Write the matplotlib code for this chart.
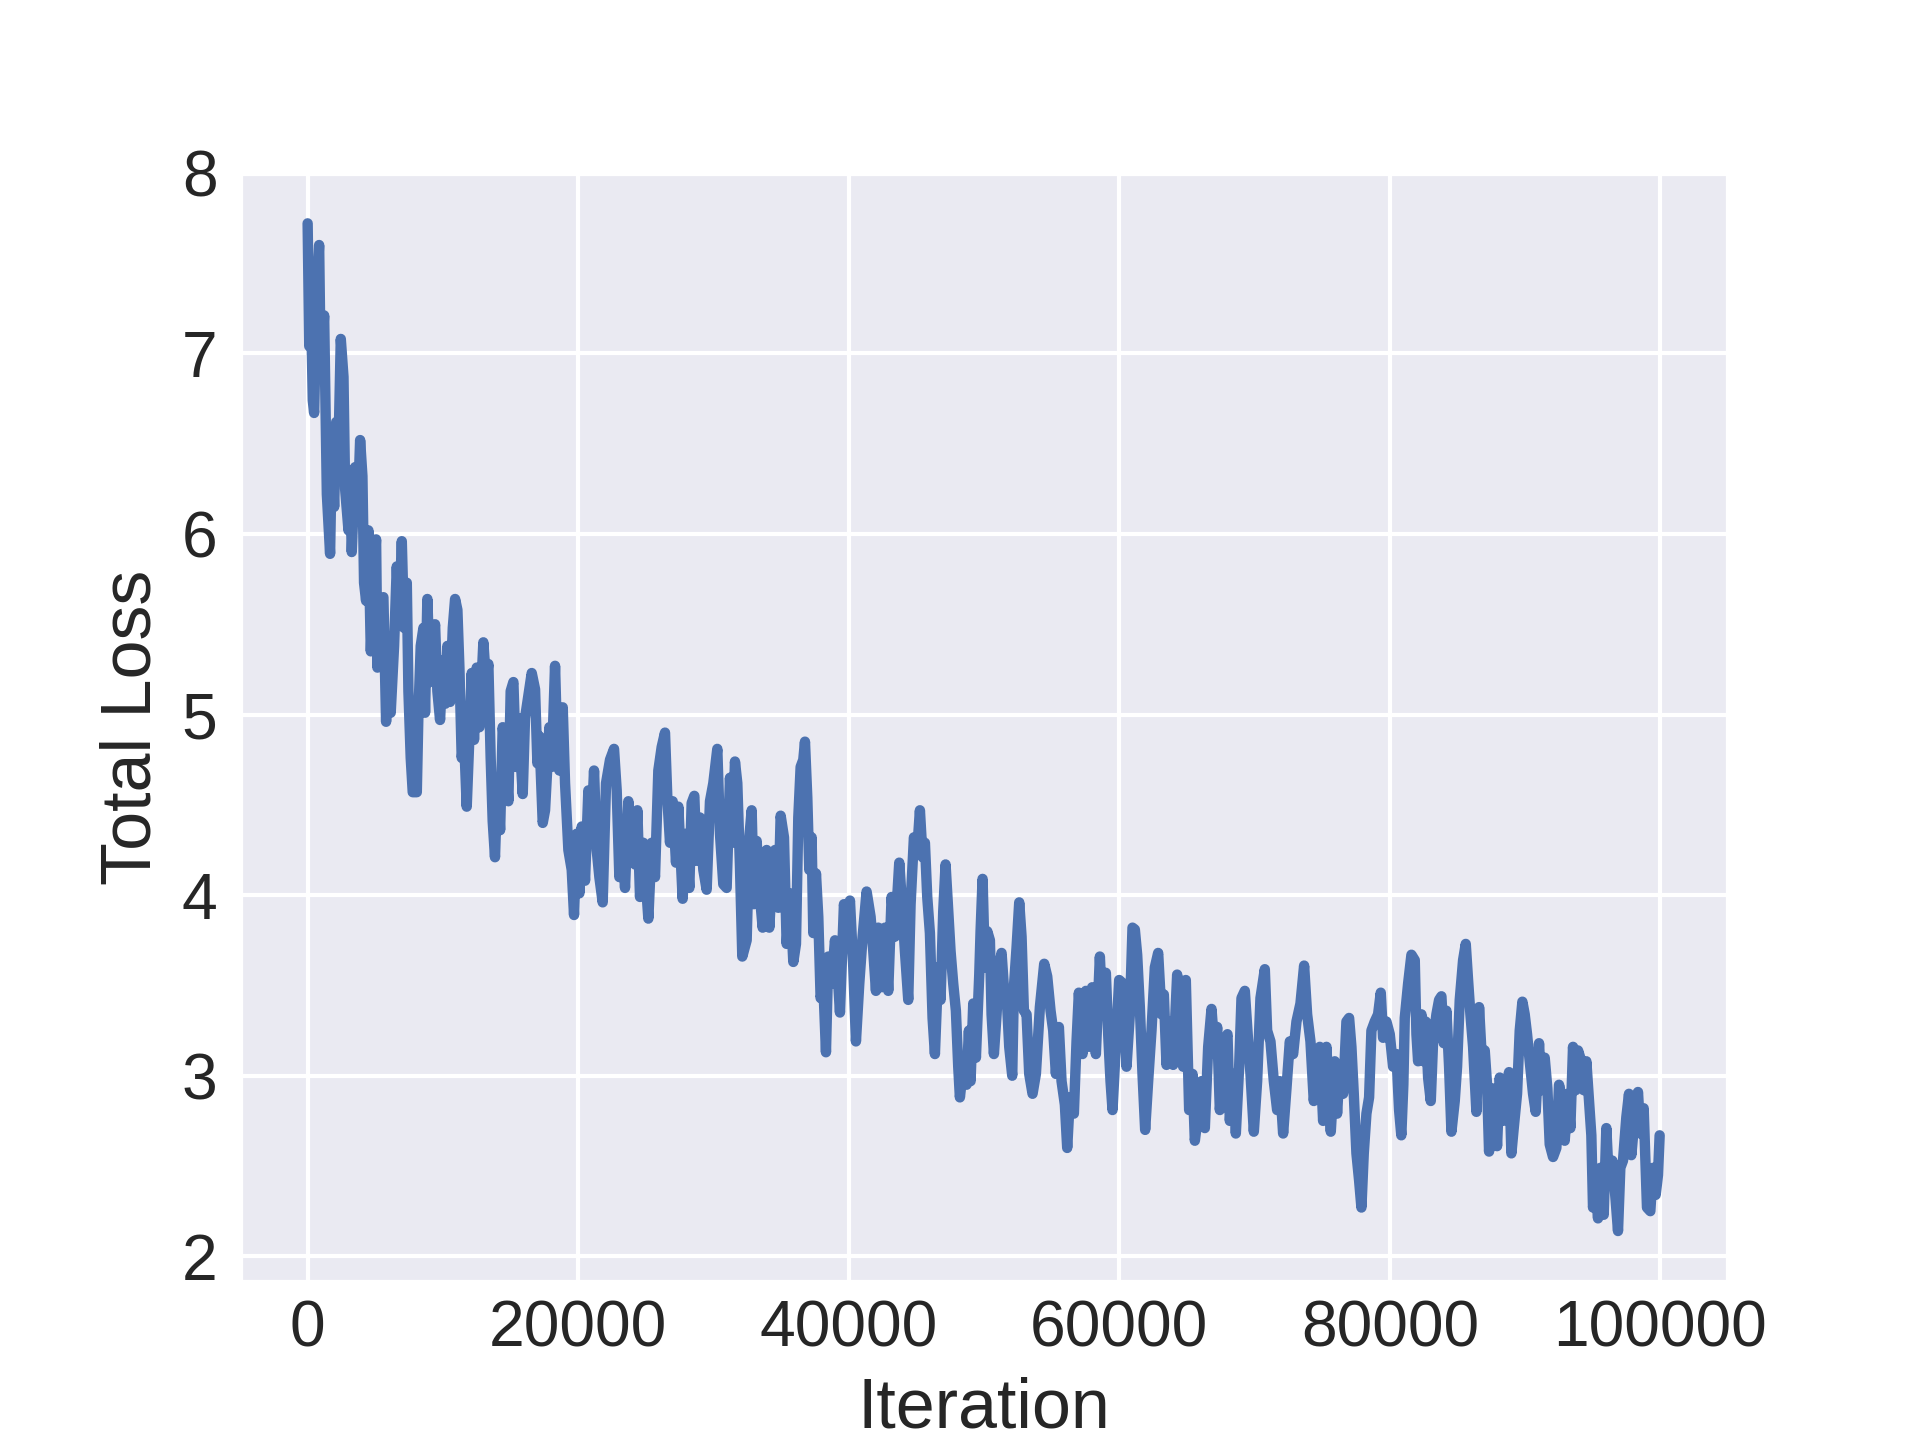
import matplotlib
matplotlib.use("Agg")
import matplotlib.pyplot as plt
import seaborn as sns

iterations = [
    0, 120, 250, 380, 480, 680, 850, 970, 1220, 1370, 1420, 1660, 1790, 1960, 2110, 2280,
    2450, 2650, 2770, 3020, 3140, 3260, 3510, 3680, 3880, 4050, 4170, 4320, 4490, 4670,
    4860, 5060, 5160, 5360, 5600, 5800, 5970, 6140, 6390, 6590, 6760, 6960, 7130, 7330,
    7450, 7620, 7770, 8070, 8190, 8360, 8560, 8680, 8850, 9050, 9250, 9420, 9590, 9790,
    9990, 10180, 10330, 10530, 10730, 10900, 11070, 11220, 11390, 11560, 11760, 11960,
    12130, 12300, 12500, 12700, 12990, 13190, 13360, 13530, 13680, 13850, 14030, 14230,
    14420, 14590, 14840, 15010, 15210, 15410, 15580, 15900, 16070,
    16566, 16812, 16985, 17133, 17379, 17551, 17871, 18044, 18290, 18463, 18610, 18857,
    19029, 19275, 19522, 19694, 19891, 20088, 20261, 20507, 20753, 21000, 21172, 21369,
    21566, 21812, 22059, 22354, 22650, 22847, 23044, 23216, 23462, 23709, 23955, 24201,
    24374, 24571, 24817, 25014, 25187, 25433, 25679, 25925, 26172, 26418, 26590, 26788,
    26985, 27231, 27403, 27723, 27970, 28216, 28388, 28585, 28758, 29004, 29251, 29497,
    29743, 29989, 30285, 30482, 30728, 30975, 31221, 31418, 31590, 31763, 31960, 32132,
    32455, 32652, 32824, 32996, 33194, 33391, 33637, 33932, 34129, 34302, 34548, 34794,
    34967, 35213, 35410, 35657, 35903, 36100, 36272, 36445, 36642, 36765, 36937, 37085,
    37257, 37381, 37578, 37750, 37922, 38120, 38317, 38489, 38735, 38982, 39154, 39351,
    39647, 39893, 40090, 40336, 40533, 40780, 41026, 41321, 41617, 41814, 42011, 42183,
    42430, 42676, 42922, 43169, 43415, 43735, 43981, 44154, 44400, 44573, 44819, 45065,
    45262, 45459, 45632, 45804, 46001, 46198, 46371, 46617, 46789, 46986, 47159, 47356,
    47528, 47725, 47922, 48095, 48218, 48464, 48710, 48883,
    49008, 49205, 49402, 49649, 49747, 49895, 50067, 50240, 50437, 50560, 50732, 50929,
    51126, 51299, 51471, 51668, 51865, 52087, 52210, 52407, 52604, 52777, 52949, 53146,
    53343, 53589, 53836, 54131, 54451, 54673, 54919, 55116, 55313, 55535, 55732, 55978,
    56151, 56348, 56643, 56841, 57013, 57284, 57530, 57776, 57998, 58269, 58565, 58762,
    59008, 59180, 59353, 59501, 59747, 59993, 60289, 60535, 60781, 60978, 61151, 61323,
    61520, 61717, 61914, 62136, 62382, 62629, 62875, 63121, 63294, 63491, 63688, 63983,
    64279, 64476, 64722, 64919, 65165,
    65414, 65586, 65833, 66079, 66325, 66572, 66818, 67064, 67237, 67434, 67631, 67803,
    68000, 68173, 68419, 68616, 68862, 69035, 69281, 69527, 69700, 69946, 70192, 70438,
    70759, 70931, 71177, 71424, 71670, 71867, 72113, 72360, 72606, 72852, 73099, 73394,
    73665, 73887, 74133, 74379, 74626, 74823, 75069, 75315, 75488, 75635, 75931, 76103,
    76300, 76547, 76793, 76990, 77162, 77335, 77532, 77729, 77901, 78074, 78271, 78468,
    78640, 78887, 79133, 79330, 79502, 79749, 79995, 80241, 80488, 80685, 80850, 81000,
    81105, 81352, 81598, 81844, 81968, 82091, 82337, 82509, 82657, 82830, 83027, 83199,
    83445, 83642, 83815, 83987, 84184, 84381, 84554, 84800, 84972, 85169, 85416, 85613,
    85785, 85958, 86155, 86401, 86598, 86770, 87017, 87189, 87337, 87583, 87756, 87928,
    88125, 88371, 88618, 88815, 88987, 89160, 89406, 89603, 89800, 89972, 90145, 90342,
    90588, 90785, 91031, 91204, 91450, 91647, 91820, 92066, 92312, 92509, 92755, 92928,
    93174, 93347, 93544, 93741, 93913, 94159, 94332, 94529, 94726, 94898, 95021, 95218,
    95391, 95563, 95810, 96007, 96204, 96450, 96696, 96869, 97041, 97238, 97484, 97681,
    97854, 98100, 98346, 98519, 98765, 99011, 99258, 99455, 99652, 99824, 99947,
]

total_loss = [
    7.72, 7.04, 7.26, 6.74, 6.67, 7.36, 7.60, 6.89, 7.21, 6.49, 6.22, 5.89, 6.47, 6.15, 6.62, 6.47,
    7.08, 6.87, 6.25, 6.02, 6.35, 5.90, 6.37, 6.07, 6.52, 6.32, 5.73, 5.63, 6.02, 5.35,
    5.73, 5.97, 5.26, 5.63, 5.65, 4.96, 5.35, 5.01, 5.38, 5.82, 5.50, 5.96, 5.48, 5.73,
    5.13, 4.76, 4.57, 4.57, 5.01, 5.38, 5.48, 5.01, 5.64, 5.18, 5.38, 5.50, 5.13, 4.97,
    5.30, 5.06, 5.38, 5.07, 5.48, 5.64, 5.58, 5.26, 4.76, 4.88, 4.49, 4.88,
    5.23, 4.86, 5.26, 4.93, 5.40, 5.18, 5.28, 4.76, 4.41, 4.21, 4.63, 4.36,
    4.93, 4.81, 4.52, 5.13, 5.18, 4.71, 4.98, 4.56, 4.98,
    5.23, 5.14, 4.73, 4.88, 4.40, 4.47, 4.93, 4.71, 5.27, 4.80, 4.69, 5.04,
    4.62, 4.25, 4.14, 3.89, 4.34, 4.01, 4.38, 4.08, 4.58, 4.40, 4.69, 4.25,
    4.10, 3.96, 4.62, 4.75, 4.81, 4.58, 4.10, 4.40, 4.04, 4.52, 4.19, 4.17,
    4.47, 3.99, 4.29, 4.06, 3.87, 4.29, 4.10, 4.69, 4.82, 4.90, 4.54, 4.29,
    4.52, 4.18, 4.49, 3.98, 4.34, 4.04, 4.51, 4.55, 4.19, 4.43, 4.14, 4.03,
    4.52, 4.62, 4.81, 4.34, 4.06, 4.04, 4.65, 4.29, 4.74, 4.62, 4.16, 3.66,
    3.75, 4.32, 4.47, 3.95, 4.30, 4.03, 3.82, 4.25, 3.82, 4.06, 4.25, 3.93,
    4.44, 4.32, 3.73, 4.01, 3.63, 3.73, 4.43, 4.71, 4.75, 4.85, 4.54, 4.14,
    4.32, 3.79, 4.12, 3.88, 3.43, 3.51, 3.13, 3.66, 3.51, 3.75, 3.60, 3.35,
    3.95, 3.80, 3.97, 3.60, 3.19, 3.51, 3.77, 4.02, 3.88, 3.69, 3.47, 3.82,
    3.49, 3.82, 3.47, 3.99, 3.77, 4.18, 3.90, 3.69, 3.42, 3.95, 4.32, 4.25,
    4.47, 4.21, 4.29, 3.99, 3.79, 3.32, 3.12, 3.60, 3.42, 3.91, 4.17, 3.91,
    3.69, 3.51, 3.36, 3.05, 2.88, 3.05, 2.95, 3.25,
    2.97, 3.40, 3.10, 3.56, 3.80, 4.09, 3.60, 3.80, 3.75, 3.34, 3.12, 3.34,
    3.62, 3.68, 3.49, 3.45, 3.16, 3.00, 3.49, 3.71, 3.96, 3.77, 3.36, 3.34,
    3.01, 2.90, 3.01, 3.38, 3.62, 3.55, 3.36, 3.25, 3.01, 3.27, 2.97, 2.84,
    2.60, 2.88, 2.79, 3.19, 3.46, 3.12, 3.47, 3.16, 3.49, 3.12, 3.66, 3.34,
    3.57, 3.23, 2.97, 2.81, 3.17, 3.53, 3.51, 3.05, 3.34, 3.82, 3.81, 3.67,
    3.38, 3.01, 2.70, 2.97, 3.25, 3.60, 3.68, 3.34, 3.45, 3.06, 3.30, 3.06,
    3.56, 3.21, 3.05, 3.53, 2.81,
    3.01, 2.64, 2.79, 2.97, 2.71, 3.16, 3.37, 3.12, 3.27, 2.81, 2.97, 3.18,
    3.23, 2.75, 3.01, 2.68, 3.05, 3.43, 3.47, 3.19, 3.01, 2.69, 2.97, 3.43,
    3.59, 3.25, 3.19, 2.97, 2.81, 2.97, 2.68, 2.93, 3.19, 3.12, 3.30, 3.40,
    3.61, 3.34, 3.19, 2.86, 3.05, 3.16, 2.75, 3.16, 2.88, 2.69, 3.08, 2.79,
    3.05, 2.90, 3.30, 3.32, 3.16, 2.90, 2.57, 2.42, 2.27, 2.57, 2.79, 2.88,
    3.25, 3.30, 3.34, 3.46, 3.21, 3.30, 3.23, 3.05, 3.12, 2.81, 2.67, 2.95,
    3.32, 3.51, 3.67, 3.64, 3.23, 3.08, 3.34, 3.08, 3.30, 2.99, 2.86, 3.19,
    3.34, 3.42, 3.44, 3.18, 3.36, 3.05, 2.69, 2.86, 3.05, 3.42, 3.64, 3.73,
    3.53, 3.34, 3.16, 2.80, 3.38, 3.14, 3.14, 2.95, 2.58, 2.93, 2.86, 2.61,
    2.99, 2.75, 2.93, 3.02, 2.57, 2.71, 2.90, 3.25, 3.41, 3.34, 3.23, 3.08,
    2.90, 2.80, 3.18, 2.92, 3.10, 2.93, 2.62, 2.55, 2.60, 2.95, 2.86, 2.64,
    2.90, 2.71, 3.16, 2.92, 3.14, 3.08, 2.92, 3.08, 2.86, 2.67, 2.27, 2.38,
    2.21, 2.49, 2.23, 2.71, 2.40, 2.53, 2.31, 2.14, 2.49, 2.53, 2.77, 2.90,
    2.56, 2.77, 2.91, 2.68, 2.82, 2.27, 2.25, 2.49, 2.34, 2.45, 2.67,
]

x_ticks = [0, 20000, 40000, 60000, 80000, 100000]
y_ticks = [2, 3, 4, 5, 6, 7, 8]

sns.set_theme(style="darkgrid", font_scale=1.4)
plt.rcParams["font.family"] = ["Liberation Sans", "DejaVu Sans"]

fig, ax = plt.subplots(figsize=(6.4, 4.8), dpi=300)
ax.plot(iterations, total_loss, color="#4C72B0", linewidth=2.5)
ax.set_xlim(-5000, 105000)
ax.set_ylim(1.86, 8.0)
ax.set_xticks(x_ticks)
ax.set_yticks(y_ticks)
ax.tick_params(axis="x", length=0, pad=4.3)
ax.tick_params(axis="y", length=0, pad=5.4)
ax.set_xlabel("Iteration")
ax.set_ylabel("Total Loss")
fig.savefig("out.png", dpi=300)
